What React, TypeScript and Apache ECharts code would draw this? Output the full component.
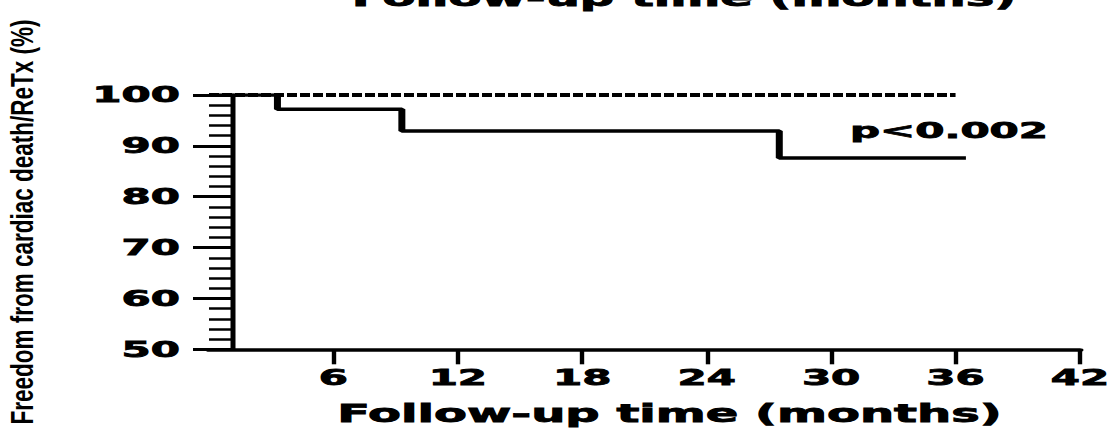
import React, { useEffect, useRef } from 'react';
import * as echarts from 'echarts';

// ---- data ----
const xTicks = [6, 12, 18, 24, 30, 36, 42];
const yMin = 50;
const yMax = 100;
const studyGroup: [number, number][] = [
  [0, 100],
  [36, 100],
];
const controlGroup: [number, number][] = [
  [0, 100],
  [3.3, 97.2],
  [9.3, 92.9],
  [27.5, 87.6],
  [36.5, 87.6],
];
const xAxisTitle = 'Follow-up time (months)';
const yAxisTitle = 'Freedom from cardiac death/ReTx (%)';
const pValueText = 'p<0.002';

const STRETCH = 2; // the reference is horizontally stretched
const W = 1116 / STRETCH;
const H = 434;

export default function App() {
  const ref = useRef<HTMLDivElement>(null);

  useEffect(() => {
    if (!ref.current) return;
    const chart = echarts.init(ref.current, undefined, { renderer: 'svg' });
    const labelFont = {
      fontFamily: 'DejaVu Sans',
      fontWeight: 'bold' as const,
      color: '#000',
      textBorderColor: '#000',
      textBorderWidth: 0.8,
    };
    chart.setOption({
      animation: false,
      backgroundColor: '#fff',
      grid: { left: 104.5, right: 17.5, top: 95, bottom: 84.7, containLabel: false },
      xAxis: {
        type: 'value',
        min: 0,
        max: 42,
        interval: 6,
        axisLine: { show: true, lineStyle: { color: '#000', width: 3.5 } },
        axisTick: {
          show: true,
          customValues: xTicks,
          length: 15,
          lineStyle: { color: '#000', width: 2.2 },
        },
        axisLabel: { customValues: xTicks, fontSize: 21, margin: 18, ...labelFont },
        splitLine: { show: false },
        name: xAxisTitle,
        nameLocation: 'middle',
        nameGap: 52,
        nameTextStyle: { fontSize: 24, padding: [0, 0, 0, 25], ...labelFont },
      },
      yAxis: {
        type: 'value',
        min: yMin,
        max: yMax,
        interval: 10,
        offset: -12,
        axisLine: { show: true, lineStyle: { color: '#000', width: 2.5 } },
        axisTick: { show: true, length: 20, lineStyle: { color: '#000', width: 3 } },
        minorTick: { show: true, splitNumber: 5, length: 12, lineStyle: { color: '#000', width: 2.5 } },
        axisLabel: { fontSize: 21, margin: 26.5, ...labelFont },
        splitLine: { show: false },
        minorSplitLine: { show: false },
      },
      series: [
        {
          type: 'line',
          data: studyGroup,
          symbol: 'none',
          lineStyle: { color: '#000', width: 4, type: [5, 1.5] },
          z: 3,
        },
        {
          type: 'line',
          data: controlGroup,
          step: 'end',
          symbol: 'none',
          lineStyle: { color: '#000', width: 3.5 },
          z: 4,
        },
      ],
      graphic: [
        {
          type: 'text',
          x: 11,
          y: 222,
          rotation: Math.PI / 2,
          scaleY: 0.7,
          style: {
            text: yAxisTitle,
            fontFamily: 'Liberation Sans',
            fontWeight: 'bold',
            fontSize: 22.5,
            fill: '#000',
            align: 'center',
            verticalAlign: 'middle',
          },
        },
        {
          type: 'text',
          x: 425,
          y: 131,
          style: {
            text: pValueText,
            fontFamily: 'DejaVu Sans',
            fontWeight: 'bold',
            fontSize: 21,
            fill: '#000',
            stroke: '#000',
            lineWidth: 0.8,
            align: 'left',
            verticalAlign: 'middle',
          },
        },
        {
          type: 'text',
          x: 342,
          y: 10,
          style: {
            text: xAxisTitle,
            fontFamily: 'DejaVu Sans',
            fontWeight: 'bold',
            fontSize: 24,
            fill: '#000',
            stroke: '#000',
            lineWidth: 0.8,
            align: 'center',
            verticalAlign: 'bottom',
          },
        },
      ],
    });
    return () => chart.dispose();
  }, []);

  return (
    <div
      ref={ref}
      style={{
        position: 'absolute',
        left: 0,
        top: 0,
        width: W,
        height: H,
        transform: `scaleX(${STRETCH})`,
        transformOrigin: '0 0',
        background: '#fff',
      }}
    />
  );
}
